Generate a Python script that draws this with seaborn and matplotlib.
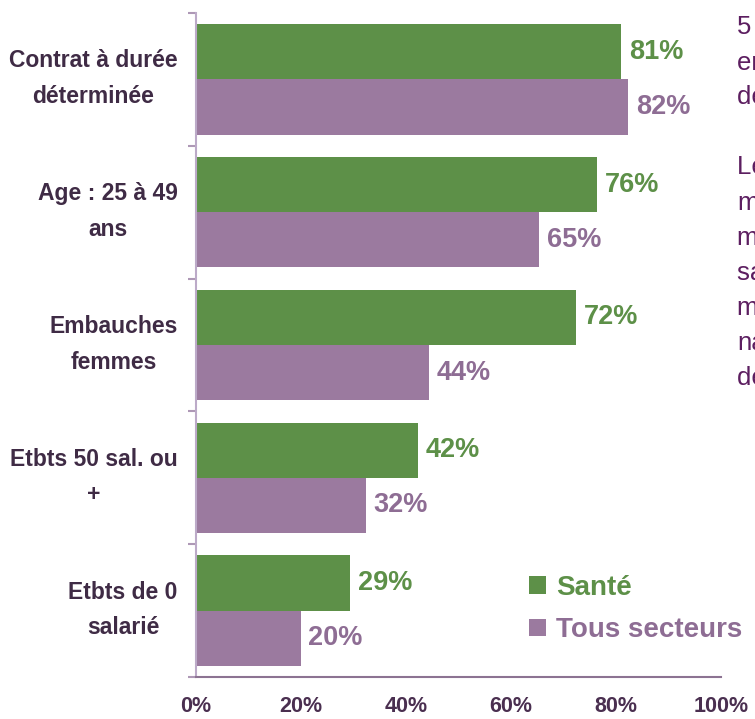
import numpy as np
import pandas as pd
import matplotlib
matplotlib.use("Agg")
import matplotlib.pyplot as plt
import seaborn as sns

categories = ["Contrat à durée\ndéterminée", "Age : 25 à 49\nans", "Embauches\nfemmes",
              "Etbts 50 sal. ou\n+", "Etbts de 0\nsalarié"]
sante = [0.811, 0.764, 0.724, 0.423, 0.294]
tous_secteurs = [0.824, 0.654, 0.444, 0.324, 0.200]
series_names = ["Santé", "Tous secteurs"]
xtick_vals = [0, 0.2, 0.4, 0.6, 0.8, 1.0]
xtick_labels = ["0%", "20%", "40%", "60%", "80%", "100%"]
side_text = ("5 embauches sur 10\nen CDD dans la santé,\nde courte durée.\n\n"
             "Les embauches sont\nmajoritairement\nmenées par les\nsalariés des\n"
             "moyennes structures,\nnationalement\nde même.")

green = "#5D9048"
purple = "#9B7A9F"
purple_txt = "#8E6D94"
dark = "#3F2B45"
axis_col = "#AE98B6"

sns.set_style("white")
plt.rcParams["font.family"] = ["Liberation Sans", "DejaVu Sans"]

df = pd.DataFrame({
    "cat": categories * 2,
    "val": sante + tous_secteurs,
    "serie": [series_names[0]] * 5 + [series_names[1]] * 5,
})

fig = plt.figure(figsize=(7.55, 7.19), dpi=100)
ax = fig.add_axes([0.2592, 0.0584, 0.6954, 0.9235])
sns.barplot(data=df, y="cat", x="val", hue="serie", orient="h",
            palette=[green, purple], width=0.83, saturation=1, linewidth=0, ax=ax)

ax.set_xlim(0, 1)
ax.set_ylim(4.5, -0.5)
ax.set_xlabel("")
ax.set_ylabel("")

# value labels
for cont, col in zip(ax.containers, [green, purple_txt]):
    ax.bar_label(cont, fmt=lambda v: f"{v*100:.0f}%", padding=5.5,
                 color=col, fontsize=19.5, fontweight="bold")

# axes styling
for s in ["top", "right"]:
    ax.spines[s].set_visible(False)
ax.spines["left"].set_color("#BCAAC8")
ax.spines["left"].set_linewidth(1.5)
ax.spines["bottom"].set_color("#8C7392")
ax.spines["bottom"].set_linewidth(1.5)

ax.set_xticks(xtick_vals)
ax.set_xticklabels(xtick_labels, fontsize=15.5, fontweight="bold", color="#4A2F50")
ax.tick_params(axis="x", length=7, width=1.5, color=axis_col, pad=7, direction="out")

# category labels
ax.set_yticks(np.arange(-0.5, len(categories)))
ax.set_yticklabels([])
ax.tick_params(axis="y", length=6, width=1.5, color=axis_col, left=True)
for i, cat in enumerate(categories):
    ax.text(-0.034, i - 0.005, cat, transform=ax.get_yaxis_transform(),
            ha="right", va="center", multialignment="center", linespacing=1.7,
            fontsize=16.5, fontweight="bold", color=dark)

handles, labels = ax.get_legend_handles_labels()
ax.legend(handles, labels, loc="upper left", bbox_to_anchor=(0.668, 0.235),
          bbox_transform=fig.transFigure, frameon=False,
          handlelength=0.6, handleheight=0.6, handletextpad=0.35, labelspacing=0.58,
          prop={"size": 20, "weight": "bold"}, labelcolor=[green, purple_txt])

fig.text(737 / 755, 1 - 15 / 719, side_text, ha="left", va="top",
         fontsize=18.5, color="#5C1E60", linespacing=1.585)

fig.savefig("out.png", dpi=100)
